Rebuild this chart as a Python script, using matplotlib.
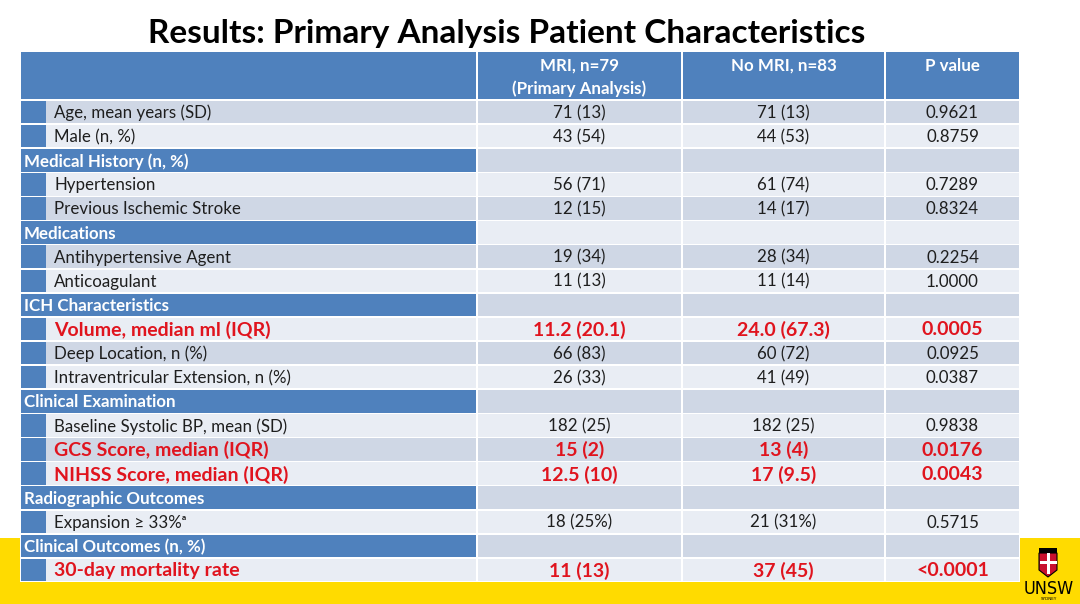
import matplotlib
matplotlib.use("Agg")
import matplotlib.pyplot as plt
from matplotlib.patches import Rectangle, Polygon

plt.rcParams['font.family'] = ['Lato', 'DejaVu Sans']

title = "Results: Primary Analysis Patient Characteristics"
headers = ["MRI, n=79", "No MRI, n=83", "P value"]
header_sub = ["(Primary Analysis)", "", ""]

# kind: 's' = section row, 'd' = data row, 'h' = highlighted data row
labels = ["Age, mean years (SD)", "Male (n, %)", "Medical History (n, %)",
          "Hypertension", "Previous Ischemic Stroke", "Medications",
          "Antihypertensive Agent", "Anticoagulant", "ICH Characteristics",
          "Volume, median ml (IQR)", "Deep Location, n (%)",
          "Intraventricular Extension, n (%)", "Clinical Examination",
          "Baseline Systolic BP, mean (SD)", "GCS Score, median (IQR)",
          "NIHSS Score, median (IQR)", "Radiographic Outcomes",
          "Expansion \u2265 33%\u1d43", "Clinical Outcomes (n, %)",
          "30-day mortality rate"]
kinds = ['d', 'd', 's', 'd', 'd', 's', 'd', 'd', 's', 'h', 'd', 'd', 's',
         'd', 'h', 'h', 's', 'd', 's', 'h']
mri = ["71 (13)", "43 (54)", "", "56 (71)", "12 (15)", "", "19 (34)",
       "11 (13)", "", "11.2 (20.1)", "66 (83)", "26 (33)", "", "182 (25)",
       "15 (2)", "12.5 (10)", "", "18 (25%)", "", "11 (13)"]
no_mri = ["71 (13)", "44 (53)", "", "61 (74)", "14 (17)", "", "28 (34)",
          "11 (14)", "", "24.0 (67.3)", "60 (72)", "41 (49)", "", "182 (25)",
          "13 (4)", "17 (9.5)", "", "21 (31%)", "", "37 (45)"]
p_values = ["0.9621", "0.8759", "", "0.7289", "0.8324", "", "0.2254",
            "1.0000", "", "0.0005", "0.0925", "0.0387", "", "0.9838",
            "0.0176", "0.0043", "", "0.5715", "", "<0.0001"]

W, H = 1080, 604
BLUE = "#4F81BD"
DARK = "#CFD7E5"
LIGHT = "#E9EDF4"
RED = "#E0141E"
TXT = "#1E1E1E"
YELLOW = "#FFDB00"

col_edges = [20, 477, 682, 885, 1020]
head_top, head_bot = 52, 99
row_top, row_h = 100, 24.1
gap = 0.8
fs, fs_hl = 12.2, 14

fig = plt.figure(figsize=(W / 100, H / 100), dpi=100)
ax = fig.add_axes([0, 0, 1, 1])
ax.set_xlim(0, W)
ax.set_ylim(H, 0)
ax.axis('off')

# yellow footer band
ax.add_patch(Rectangle((0, 538), W, H - 538, color=YELLOW, lw=0))
# white table backing
ax.add_patch(Rectangle((col_edges[0], head_top), col_edges[-1] - col_edges[0],
                       row_top + row_h * len(labels) - head_top, color="white", lw=0))

ax.text(507, 33, title, ha='center', va='center', fontsize=24,
        fontweight='bold', color='black')

# header
for c in range(4):
    x0, x1 = col_edges[c], col_edges[c + 1]
    ax.add_patch(Rectangle((x0 + gap, head_top), x1 - x0 - 2 * gap,
                           head_bot - head_top, color=BLUE, lw=0))
for c in range(3):
    x0, x1 = col_edges[c + 1], col_edges[c + 2]
    ax.text((x0 + x1) / 2, 66, headers[c], ha='center', va='center',
            fontsize=fs, fontweight='bold', color='white')
    if header_sub[c]:
        ax.text((x0 + x1) / 2, 89, header_sub[c], ha='center', va='center',
                fontsize=fs, fontweight='bold', color='white')

def cell(x0, x1, y0, color):
    ax.add_patch(Rectangle((x0 + gap, y0 + gap), x1 - x0 - 2 * gap,
                           row_h - 2 * gap, color=color, lw=0))

for i, lab in enumerate(labels):
    y0 = row_top + i * row_h
    yc = y0 + row_h / 2 + 1
    band = DARK if i % 2 == 0 else LIGHT
    kind = kinds[i]
    hl = kind == 'h'
    if kind == 's':
        cell(col_edges[0], col_edges[1], y0, BLUE)
        ax.text(col_edges[0] + 4, yc, lab, ha='left', va='center',
                fontsize=fs, fontweight='bold', color='white')
    else:
        cell(col_edges[0], col_edges[1], y0, band)
        cell(col_edges[0], col_edges[0] + 27, y0, BLUE)
        ax.text(col_edges[0] + 34, yc, lab, ha='left', va='center',
                fontsize=fs_hl if hl else fs,
                fontweight='bold' if hl else 'normal',
                color=RED if hl else TXT)
    vals = [mri[i], no_mri[i], p_values[i]]
    for c in range(3):
        x0, x1 = col_edges[c + 1], col_edges[c + 2]
        cell(x0, x1, y0, band)
        if vals[c]:
            ax.text((x0 + x1) / 2, yc, vals[c], ha='center', va='center',
                    fontsize=fs_hl if hl else fs,
                    fontweight='bold' if hl else 'normal',
                    color=RED if hl else TXT)

# UNSW logo (simplified)
shield = Polygon([(1039, 553), (1057, 553), (1057, 570), (1048, 577), (1039, 570)],
                 closed=True, facecolor="#C8102E", edgecolor="black", lw=0.8)
ax.add_patch(shield)
ax.add_patch(Rectangle((1039, 548), 18, 5, facecolor="black", lw=0))
ax.add_patch(Rectangle((1046.5, 553), 3, 21, facecolor="white", lw=0))
ax.add_patch(Rectangle((1039.5, 561), 17, 3, facecolor="white", lw=0))
ax.text(1049, 589, "UNSW", ha='center', va='center', fontsize=13,
        family='DejaVu Sans', fontstretch='condensed', color='black')
ax.text(1049, 599, "SYDNEY", ha='center', va='center', fontsize=3,
        family='DejaVu Sans', color='black')

fig.savefig("out.png", dpi=100)
